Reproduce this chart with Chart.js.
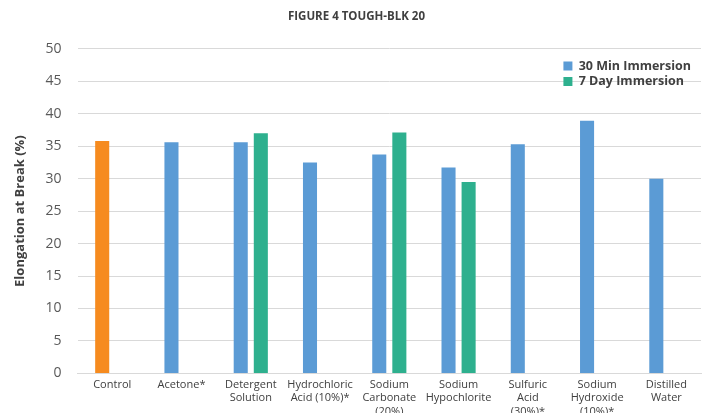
<!DOCTYPE html>
<html>
<head>
<meta charset="utf-8">
<script src="https://cdn.jsdelivr.net/npm/chart.js@4/dist/chart.umd.min.js"></script>
<style>
  html, body { margin: 0; padding: 0; background: #fff; overflow: hidden; }
  #wrap { width: 709px; height: 423px; position: relative; }
</style>
</head>
<body>
<div id="wrap"><canvas id="chart"></canvas></div>
<script>
// data
const categories = [
  ['Control'], ['Acetone*'], ['Detergent', 'Solution'], ['Hydrochloric', 'Acid (10%)*'],
  ['Sodium', 'Carbonate', '(20%)'], ['Sodium', 'Hypochlorite'], ['Sulfuric', 'Acid', '(30%)*'],
  ['Sodium', 'Hydroxide', '(10%)*'], ['Distilled', 'Water']
];
const min30 = [35.8, 35.6, 35.6, 32.5, 33.7, 31.7, 35.3, 38.9, 30.0];
const day7 = [null, null, 37.0, null, 37.1, 29.5, null, null, null];
const yTicks = [0, 5, 10, 15, 20, 25, 30, 35, 40, 45, 50];

const BLUE = '#5b9bd5', GREEN = '#2eb08e', ORANGE = '#f68b1f';
const TXT = '#404040';

// control bar sits in the 30 min series but is coloured orange
const blueColors = min30.map((v, i) => i === 0 ? ORANGE : BLUE);

// move legend into the top right corner of the plot
const legendSpot = {
  id: 'legendSpot',
  afterLayout(chart) {
    const lg = chart.legend, ca = chart.chartArea;
    if (!lg) return;
    const w = lg.width;
    lg.left = ca.right - w;
    lg.right = lg.left + w;
    lg.top = ca.top + 8;
    lg.bottom = lg.top + 40;
  }
};

new Chart(document.getElementById('chart'), {
  type: 'bar',
  data: {
    labels: categories,
    datasets: [
      { label: '30 Min Immersion', data: min30, backgroundColor: blueColors, categoryPercentage: 0.58, barPercentage: 0.7 },
      { label: '7 Day Immersion', data: day7, backgroundColor: GREEN, categoryPercentage: 0.58, barPercentage: 0.7 }
    ]
  },
  plugins: [legendSpot],
  options: {
    responsive: true,
    maintainAspectRatio: false,
    animation: false,
    layout: { padding: { left: 12, right: 8, top: 0, bottom: 0 } },
    plugins: {
      title: {
        display: true,
        text: 'FIGURE 4 TOUGH-BLK 20',
        color: TXT,
        font: { family: 'Open Sans', size: 11.5, weight: 'bold' },
        padding: { top: 10, bottom: 25 }
      },
      legend: {
        position: 'chartArea',
        align: 'start',
        labels: {
          color: TXT,
          font: { family: 'Open Sans', size: 12.5, weight: 'bold' },
          boxWidth: 9,
          boxHeight: 9,
          padding: 3,
          generateLabels: () => [
            { text: '30 Min Immersion', fillStyle: BLUE, strokeStyle: BLUE, lineWidth: 0, datasetIndex: 0, fontColor: TXT },
            { text: '7 Day Immersion', fillStyle: GREEN, strokeStyle: GREEN, lineWidth: 0, datasetIndex: 1, fontColor: TXT }
          ]
        }
      },
      tooltip: { enabled: false }
    },
    scales: {
      x: {
        grid: { display: false, drawTicks: false },
        border: { color: '#d9d9d9', width: 1 },
        ticks: {
          color: TXT,
          autoSkip: false,
          maxRotation: 0,
          padding: 5,
          font: { family: 'Open Sans', size: 11, lineHeight: 1.2 }
        }
      },
      y: {
        min: 0,
        max: 50,
        afterBuildTicks: axis => { axis.ticks = yTicks.map(v => ({ value: v })); },
        grid: { color: '#d9d9d9', lineWidth: 1, drawTicks: false },
        border: { display: false },
        ticks: {
          color: '#595959',
          padding: 16,
          font: { family: 'Open Sans', size: 14 }
        },
        title: {
          display: true,
          text: 'Elongation at Break (%)',
          color: TXT,
          font: { family: 'Open Sans', size: 13, weight: 'bold' },
          padding: { top: 0, bottom: 2 }
        }
      }
    }
  }
});
</script>
</body>
</html>
